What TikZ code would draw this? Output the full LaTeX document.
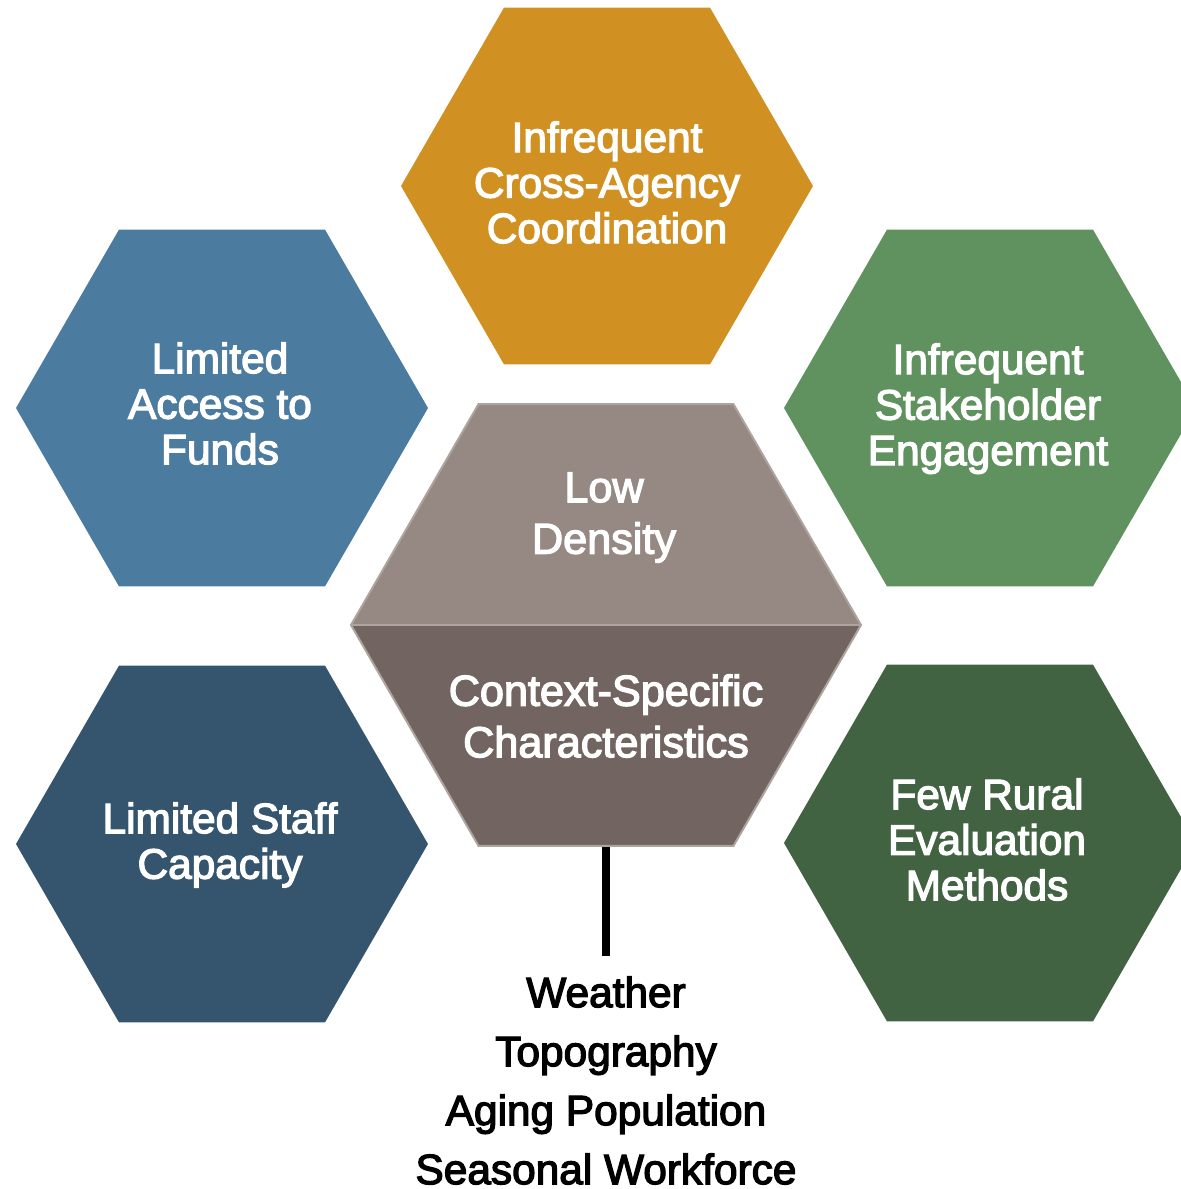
\documentclass[tikz,border=0pt]{standalone}
\usepackage{fontspec}
\usepackage{tikz}
\usetikzlibrary{shapes.geometric}
\usetikzlibrary{positioning}
\usetikzlibrary{calc}
\newfontfamily\hexfont{Liberation Sans}[FakeBold=3]
\definecolor{ochre}{HTML}{D09122}
\definecolor{steel}{HTML}{4C7BA0}
\definecolor{sage}{HTML}{5F925E}
\definecolor{navy}{HTML}{35546E}
\definecolor{forest}{HTML}{426342}
\definecolor{taupe}{HTML}{968883}
\definecolor{umber}{HTML}{726561}
\definecolor{rim}{HTML}{ADA39F}

\begin{document}
\begin{tikzpicture}[x=0.5pt,y=-0.5pt]
\tikzset{
  hexcell/.style = {regular polygon,regular polygon sides=6,minimum size=206pt,inner sep=0,fill=#1},
  hextext/.style = {anchor=north,inner sep=0,text=white,align=center,font=\hexfont\fontsize{21.2}{22.75}\selectfont},
  midtext/.style = {anchor=north,inner sep=0,text=white,align=center,font=\hexfont\fontsize{21.6}{25.75}\selectfont},
  listtext/.style = {anchor=north,inner sep=0,text=black,align=center,font=\hexfont\fontsize{21.2}{29.5}\selectfont},
  stem/.style = {draw=black,line width=3.75pt}
}
\useasboundingbox (0,0) rectangle (1181,1189);
\clip (0,0) rectangle (1181,1189);

    \node[hexcell=ochre]   (coord)  at (607,186)  {};
    \node[hexcell=steel]   (funds)  at (222,408)  {};
    \node[hexcell=sage]    (stake)  at (990,408)  {};
    \node[hexcell=navy]    (staff)  at (222,844)  {};
    \node[hexcell=forest]  (evalm)  at (990,843)  {};
    \node[regular polygon,regular polygon sides=6,minimum size=255pt,inner sep=0,
          fill=umber,draw=rim,line width=1pt,
          path picture={\fill[taupe] (path picture bounding box.north west) rectangle (path picture bounding box.east);}]
          (ctx) at (606,625) {};
    \draw[draw=rim,line width=1pt] (ctx.west) -- (ctx.east);
    %%%%%%%%%%%%%%%%%%%%%%%%%%%%%%%%%%
    \node[hextext] (coordt) at (607,121) {Infrequent\\Cross-Agency\\Coordination};
    \node[hextext] (fundst) at (220,342) {Limited\\Access to\\Funds};
    \node[hextext] (staket) at (988,343) {Infrequent\\Stakeholder\\Engagement};
    \node[hextext] (stafft) at (220,802) {Limited Staff\\Capacity};
    \node[hextext] (evalt)  at (987,778) {Few Rural\\Evaluation\\Methods};
    \node[midtext] (lowt)   at (604,472) {Low\\Density};
    \node[midtext] (ctxt)   at (606,674) {Context-Specific\\Characteristics};
    \node[listtext] (factors) at (606,976) {Weather\\Topography\\Aging Population\\Seasonal Workforce};

    \path[stem,shorten >=10pt] (ctx.south) -- (ctx.south |- factors.north);
\end{tikzpicture}
\end{document}
